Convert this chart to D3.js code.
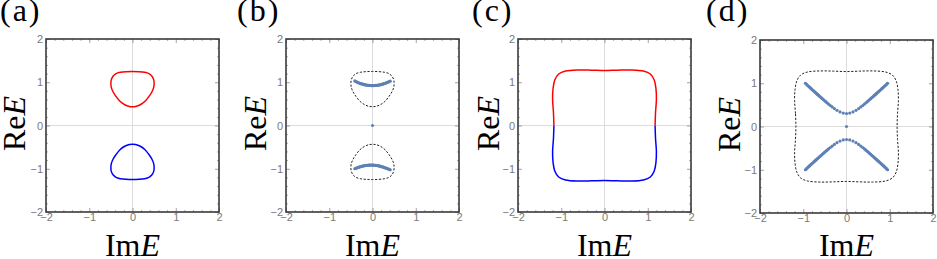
<!DOCTYPE html>
<html>
<head>
<meta charset="utf-8">
<script src="https://cdn.jsdelivr.net/npm/d3@7"></script>
<style>
  body { margin: 0; background: #fff; }
  svg { display: block; }
</style>
</head>
<body>
<svg id="chart" width="937" height="259"></svg>
<script>
// axis ticks shared by every panel
const majorTicks = [-2, -1, 0, 1, 2];

// (a) red loop above the real axis, blue loop below
const loopUpper = [
    [0, 1.25], [0.15, 1.245], [0.28, 1.23], [0.38, 1.2], [0.45, 1.14], [0.49, 1.06],
    [0.5, 0.97], [0.49, 0.88], [0.45, 0.78], [0.38, 0.67], [0.29, 0.56], [0.18, 0.48],
    [0.07, 0.44], [0, 0.435], [-0.07, 0.44], [-0.18, 0.48], [-0.29, 0.56], [-0.38, 0.67],
    [-0.45, 0.78], [-0.49, 0.88], [-0.5, 0.97], [-0.49, 1.06], [-0.45, 1.14], [-0.38, 1.2],
    [-0.28, 1.23], [-0.15, 1.245]
];
const loopLower = [
    [0, -1.25], [0.15, -1.245], [0.28, -1.23], [0.38, -1.2], [0.45, -1.14], [0.49, -1.06],
    [0.5, -0.97], [0.49, -0.88], [0.45, -0.78], [0.38, -0.67], [0.29, -0.56], [0.18, -0.48],
    [0.07, -0.44], [0, -0.435], [-0.07, -0.44], [-0.18, -0.48], [-0.29, -0.56], [-0.38, -0.67],
    [-0.45, -0.78], [-0.49, -0.88], [-0.5, -0.97], [-0.49, -1.06], [-0.45, -1.14], [-0.38, -1.2],
    [-0.28, -1.23], [-0.15, -1.245]
];

// (b) eigenvalue dots
const arcUpper = [
    [-0.41, 1.03], [-0.39, 1.02], [-0.37, 1.01], [-0.35, 1.0], [-0.33, 0.99], [-0.31, 0.983],
    [-0.29, 0.976], [-0.27, 0.969], [-0.25, 0.962], [-0.23, 0.956], [-0.21, 0.95], [-0.19, 0.945],
    [-0.17, 0.94], [-0.15, 0.936], [-0.13, 0.933], [-0.11, 0.93], [-0.09, 0.928], [-0.07, 0.926],
    [-0.05, 0.925], [-0.03, 0.924], [-0.01, 0.924], [0.01, 0.924], [0.03, 0.924], [0.05, 0.925],
    [0.07, 0.926], [0.09, 0.928], [0.11, 0.93], [0.13, 0.933], [0.15, 0.936], [0.17, 0.94],
    [0.19, 0.945], [0.21, 0.95], [0.23, 0.956], [0.25, 0.962], [0.27, 0.969], [0.29, 0.976],
    [0.31, 0.983], [0.33, 0.99], [0.35, 1.0], [0.37, 1.008], [0.39, 1.016], [0.41, 1.024]
];
const arcLower = [
    [-0.41, -1.0], [-0.39, -0.992], [-0.37, -0.985], [-0.35, -0.977], [-0.33, -0.97], [-0.31, -0.963],
    [-0.29, -0.956], [-0.27, -0.95], [-0.25, -0.945], [-0.23, -0.94], [-0.21, -0.935], [-0.19, -0.931],
    [-0.17, -0.927], [-0.15, -0.924], [-0.13, -0.921], [-0.11, -0.919], [-0.09, -0.917], [-0.07, -0.916],
    [-0.05, -0.915], [-0.03, -0.915], [-0.01, -0.915], [0.01, -0.916], [0.03, -0.917], [0.05, -0.919],
    [0.07, -0.921], [0.09, -0.924], [0.11, -0.927], [0.13, -0.931], [0.15, -0.935], [0.17, -0.94],
    [0.19, -0.945], [0.21, -0.951], [0.23, -0.957], [0.25, -0.964], [0.27, -0.971], [0.29, -0.978],
    [0.31, -0.985], [0.33, -0.992], [0.35, -1.0], [0.37, -1.008], [0.39, -1.016], [0.41, -1.024]
];
const centerDot = [[0, 0]];

// (c) red upper half and blue lower half of the rounded square
const squareUpper = [
    [-1.17, 0], [-1.18, 0.3], [-1.2, 0.6], [-1.19, 0.85], [-1.15, 1.05], [-1.06, 1.19],
    [-0.9, 1.26], [-0.6, 1.285], [-0.3, 1.28], [0, 1.27], [0.3, 1.28], [0.6, 1.285],
    [0.9, 1.26], [1.06, 1.19], [1.15, 1.05], [1.19, 0.85], [1.2, 0.6], [1.18, 0.3], [1.17, 0]
];
const squareLower = [
    [1.17, 0], [1.18, -0.3], [1.2, -0.6], [1.19, -0.85], [1.15, -1.05], [1.06, -1.19],
    [0.9, -1.26], [0.6, -1.285], [0.3, -1.28], [0, -1.27], [-0.3, -1.28], [-0.6, -1.285],
    [-0.9, -1.26], [-1.06, -1.19], [-1.15, -1.05], [-1.19, -0.85], [-1.2, -0.6], [-1.18, -0.3], [-1.17, 0]
];

// (d) eigenvalue dots on the two hyperbola-like branches (sparser near the gap)
const branchUpper = [
    [-0.95, 1.0], [-0.93, 0.98], [-0.91, 0.96], [-0.89, 0.942], [-0.87, 0.924], [-0.85, 0.905],
    [-0.83, 0.887], [-0.81, 0.869], [-0.79, 0.85], [-0.77, 0.832], [-0.75, 0.814], [-0.73, 0.796],
    [-0.71, 0.778], [-0.69, 0.76], [-0.67, 0.742], [-0.65, 0.724], [-0.63, 0.706], [-0.61, 0.688],
    [-0.585, 0.666], [-0.56, 0.644], [-0.535, 0.622], [-0.51, 0.6], [-0.48, 0.574], [-0.45, 0.548],
    [-0.415, 0.518], [-0.375, 0.486], [-0.33, 0.452], [-0.28, 0.415], [-0.22, 0.375], [-0.15, 0.338],
    [-0.075, 0.31], [0, 0.3], [0.075, 0.31], [0.15, 0.338], [0.22, 0.375], [0.28, 0.415],
    [0.33, 0.452], [0.375, 0.486], [0.415, 0.518], [0.45, 0.548], [0.48, 0.574], [0.51, 0.6],
    [0.535, 0.622], [0.56, 0.644], [0.585, 0.666], [0.61, 0.688], [0.63, 0.706], [0.65, 0.724],
    [0.67, 0.742], [0.69, 0.76], [0.71, 0.778], [0.73, 0.796], [0.75, 0.814], [0.77, 0.832],
    [0.79, 0.85], [0.81, 0.869], [0.83, 0.887], [0.85, 0.905], [0.87, 0.924], [0.89, 0.942],
    [0.91, 0.96], [0.93, 0.98], [0.95, 1.0]
];
const branchLower = [
    [-0.95, -1.0], [-0.93, -0.98], [-0.91, -0.96], [-0.89, -0.942], [-0.87, -0.924], [-0.85, -0.905],
    [-0.83, -0.887], [-0.81, -0.869], [-0.79, -0.85], [-0.77, -0.832], [-0.75, -0.814], [-0.73, -0.796],
    [-0.71, -0.778], [-0.69, -0.76], [-0.67, -0.742], [-0.65, -0.724], [-0.63, -0.706], [-0.61, -0.688],
    [-0.585, -0.666], [-0.56, -0.644], [-0.535, -0.622], [-0.51, -0.6], [-0.48, -0.574], [-0.45, -0.548],
    [-0.415, -0.518], [-0.375, -0.486], [-0.33, -0.452], [-0.28, -0.415], [-0.22, -0.375], [-0.15, -0.338],
    [-0.075, -0.31], [0, -0.3], [0.075, -0.31], [0.15, -0.338], [0.22, -0.375], [0.28, -0.415],
    [0.33, -0.452], [0.375, -0.486], [0.415, -0.518], [0.45, -0.548], [0.48, -0.574], [0.51, -0.6],
    [0.535, -0.622], [0.56, -0.644], [0.585, -0.666], [0.61, -0.688], [0.63, -0.706], [0.65, -0.724],
    [0.67, -0.742], [0.69, -0.76], [0.71, -0.778], [0.73, -0.796], [0.75, -0.814], [0.77, -0.832],
    [0.79, -0.85], [0.81, -0.869], [0.83, -0.887], [0.85, -0.905], [0.87, -0.924], [0.89, -0.942],
    [0.91, -0.96], [0.93, -0.98], [0.95, -1.0]
];

const RED = '#ff0000', BLUE = '#0000ff', DOT = '#5e81b5';
const SIZE = 173;

const panels = [
    { name: '(a)', left: 46, top: 39, nameX: 0, yLabelGap: 21.5,
      curves: [{ pts: loopUpper, color: RED, closed: true }, { pts: loopLower, color: BLUE, closed: true }] },
    { name: '(b)', left: 286, top: 39, nameX: 237, yLabelGap: 20,
      dashed: [loopUpper, loopLower], dots: [arcUpper, arcLower, centerDot] },
    { name: '(c)', left: 518, top: 39, nameX: 472, yLabelGap: 19.5,
      curves: [{ pts: squareUpper, color: RED }, { pts: squareLower, color: BLUE }] },
    { name: '(d)', left: 760, top: 40, nameX: 706, yLabelGap: 20,
      dashed: [squareUpper.concat(squareLower.slice(1, -1))], dots: [branchUpper, branchLower, centerDot] }
];

const svg = d3.select('#chart');
const serif = '"Liberation Serif", "DejaVu Serif", serif';

panels.forEach(p => {
    const x = d3.scaleLinear().domain([-2, 2]).range([p.left, p.left + SIZE]);
    const y = d3.scaleLinear().domain([-2, 2]).range([p.top + SIZE, p.top]);
    const g = svg.append('g');

    // zero grid lines
    g.append('line')
        .attr('x1', x(0)).attr('x2', x(0))
        .attr('y1', y(-2)).attr('y2', y(2))
        .attr('stroke', '#dcdcdc').attr('stroke-width', 1);
    g.append('line')
        .attr('x1', x(-2)).attr('x2', x(2))
        .attr('y1', y(0)).attr('y2', y(0))
        .attr('stroke', '#dcdcdc').attr('stroke-width', 1);

    const minor = x.ticks(20).filter(v => !majorTicks.includes(v));

    const addAxis = (axis, tx, ty, labels) => {
        const a = g.append('g')
            .attr('transform', `translate(${tx},${ty})`)
            .call(axis.tickValues(majorTicks).tickSize(-4).tickPadding(3)
                .tickFormat(labels ? d3.format('d') : ''));
        a.select('.domain').remove();
        a.selectAll('line').attr('stroke', '#8a8a8a').attr('stroke-width', 0.8);
        a.selectAll('text')
            .attr('fill', '#7a7a7a')
            .style('font-family', '"Liberation Sans", Arial, sans-serif')
            .style('font-size', '11px');
        const m = g.append('g')
            .attr('transform', `translate(${tx},${ty})`)
            .call(axis.tickValues(minor).tickSize(-2).tickFormat(''));
        m.select('.domain').remove();
        m.selectAll('line').attr('stroke', '#8a8a8a').attr('stroke-width', 0.7);
        return a;
    };

    const bx = addAxis(d3.axisBottom(x), 0, p.top + SIZE, true);
    bx.selectAll('text').attr('dy', '0.62em').attr('y', 2);
    addAxis(d3.axisLeft(y), p.left, 0, true);
    addAxis(d3.axisTop(x), 0, p.top, false);
    addAxis(d3.axisRight(y), p.left + SIZE, 0, false);

    // frame
    g.append('rect')
        .attr('x', p.left).attr('y', p.top)
        .attr('width', SIZE).attr('height', SIZE)
        .attr('fill', 'none')
        .attr('stroke', '#3a3a3a')
        .attr('stroke-width', 1.6);

    // solid coloured curves
    (p.curves || []).forEach(c => {
        const line = d3.line()
            .x(d => x(d[0])).y(d => y(d[1]))
            .curve(c.closed ? d3.curveCatmullRomClosed : d3.curveCatmullRom);
        g.append('path')
            .attr('d', line(c.pts))
            .attr('fill', 'none')
            .attr('stroke', c.color)
            .attr('stroke-width', 1.5);
    });

    // dashed reference contours
    (p.dashed || []).forEach(pts => {
        const line = d3.line()
            .x(d => x(d[0])).y(d => y(d[1]))
            .curve(d3.curveCatmullRomClosed);
        g.append('path')
            .attr('d', line(pts))
            .attr('fill', 'none')
            .attr('stroke', '#222')
            .attr('stroke-width', 1)
            .attr('stroke-dasharray', '2.2,1.6');
    });

    // eigenvalue dots
    (p.dots || []).forEach(pts => {
        g.selectAll(null)
            .data(pts)
            .enter()
            .append('circle')
            .attr('cx', d => x(d[0]))
            .attr('cy', d => y(d[1]))
            .attr('r', 1.6)
            .attr('fill', DOT);
    });

    // panel letter
    svg.append('text')
        .attr('x', p.nameX).attr('y', 21)
        .style('font-family', serif)
        .style('font-size', '32px')
        .style('letter-spacing', '2px')
        .text(p.name);

    // axis titles
    const xt = svg.append('text')
        .attr('x', p.left + SIZE / 2).attr('y', 256)
        .attr('text-anchor', 'middle')
        .style('font-family', serif)
        .style('font-size', '32px');
    xt.append('tspan').text('Im');
    xt.append('tspan').style('font-style', 'italic').text('E');

    const yt = svg.append('text')
        .attr('transform', `translate(${p.left - p.yLabelGap},${p.top + SIZE / 2 - 2}) rotate(-90)`)
        .attr('text-anchor', 'middle')
        .style('font-family', serif)
        .style('font-size', '32px');
    yt.append('tspan').text('Re');
    yt.append('tspan').style('font-style', 'italic').text('E');
});
</script>
</body>
</html>
